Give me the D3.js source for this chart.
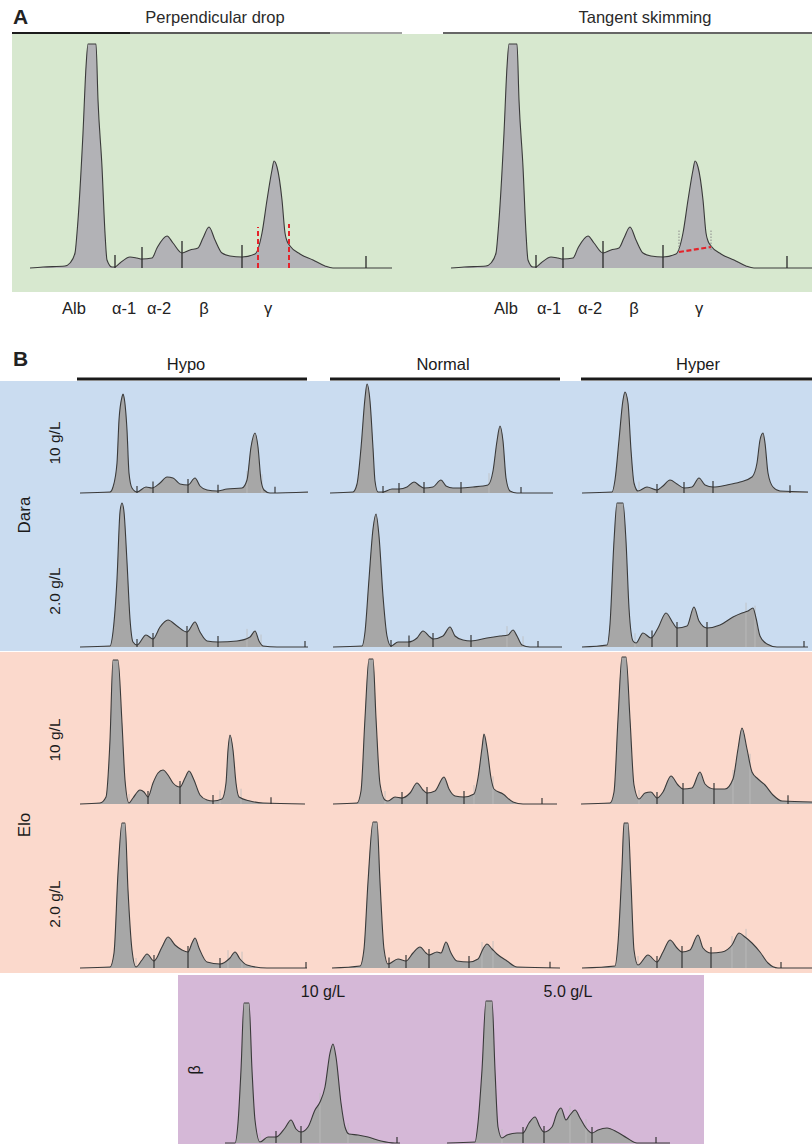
<!DOCTYPE html>
<html>
<head>
<meta charset="utf-8">
<script src="https://cdn.jsdelivr.net/npm/d3@7"></script>
<style>
  body { margin: 0; background: #fff; }
  svg { display: block; font-family: "Liberation Sans", Arial, sans-serif; }
</style>
</head>
<body>
<div id="chart"></div>
<script>
// ---------------------------------------------------------------------------
// data: densitometry traces as [mobility, absorbance] pairs (arbitrary units)
// ---------------------------------------------------------------------------
var methods = ['Perpendicular drop', 'Tangent skimming'];
var fractionLabels = ['Alb', 'α-1', 'α-2', 'β', 'γ'];
var labelMobilityPerp = [44, 94, 129, 174, 238];
var labelMobilityTangent = [55, 98, 139, 183, 248];

var refTrace = [[0,0],[13,1],[35,2],[40,5],[45,15],[47,35],[53,135],[56,201],[58,224],[66,224],[68,168],[72,101],[75,35],[77,8],[82,1],[85,1],[90,5],[100,11],[107,10],[112,9],[122,10],[127,20],[137,32],[143,25],[152,15],[160,18],[168,20],[173,30],[179,41],[185,28],[192,15],[200,12],[212,11],[225,14],[232,35],[237,68],[242,98],[244,107],[247,101],[252,68],[255,35],[257,27],[260,22],[270,14],[283,8],[295,2],[303,0],[362,0]];
var refBoundaries = [85, 112, 152, 212, 336];
var perpDropMobility = [228, 259];
var perpDropLevel = [41, 44];
var tangentMobility = [228, 260];
var tangentLevel = [16, 21];

var levels = ['Hypo', 'Normal', 'Hyper'];
var drugs = ['Dara', 'Elo'];
var doses = ['10 g/L', '2.0 g/L'];
var betaDoses = ['10 g/L', '5.0 g/L'];

var daraHypo10 = [[1,0],[31,1],[34,6],[38,30],[40,73],[43,96],[44,99],[45,96],[48,63],[50,20],[53,5],[58,1],[67,6],[73,5],[81,10],[88,16],[94,15],[101,9],[109,8],[116,15],[121,7],[128,3],[138,2],[148,4],[163,5],[168,13],[172,46],[176,60],[179,46],[182,13],[185,3],[191,0],[229,1]];
var daraNormal10 = [[0,0],[23,1],[27,9],[31,45],[35,95],[37,109],[40,92],[43,45],[45,12],[48,1],[53,1],[62,4],[69,4],[77,6],[84,11],[90,7],[94,5],[103,6],[111,13],[116,7],[123,5],[131,5],[143,6],[158,8],[163,22],[167,52],[170,67],[173,52],[176,15],[180,2],[187,0],[223,0]];
var daraHyper10 = [[1,0],[31,1],[34,13],[38,53],[42,93],[44,101],[47,90],[50,43],[53,10],[57,2],[66,6],[76,3],[82,7],[89,13],[96,9],[103,5],[111,6],[118,15],[124,8],[132,6],[146,8],[159,11],[171,16],[176,30],[179,53],[182,60],[184,50],[187,20],[192,6],[199,2],[227,1]];
var daraHypo2 = [[1,0],[31,1],[34,15],[38,68],[41,135],[43,144],[45,135],[48,85],[51,28],[54,5],[58,2],[67,12],[74,8],[81,20],[89,27],[98,21],[108,15],[116,25],[121,15],[128,6],[139,5],[158,6],[171,10],[176,16],[180,6],[184,1],[198,0],[229,0]];
var daraNormal2 = [[3,0],[32,1],[35,15],[39,68],[43,118],[46,133],[49,111],[53,51],[57,11],[61,1],[68,5],[78,5],[87,9],[93,16],[100,10],[103,8],[113,11],[120,20],[125,11],[133,7],[141,6],[157,9],[170,11],[178,12],[183,17],[187,11],[192,2],[200,0],[232,0]];
var daraHyper2 = [[1,0],[26,2],[29,23],[33,106],[36,144],[42,144],[45,106],[48,39],[52,6],[55,4],[62,14],[70,9],[77,19],[85,34],[92,24],[96,19],[106,21],[113,40],[118,26],[126,19],[139,22],[152,30],[161,34],[167,36],[172,39],[175,29],[179,11],[186,3],[196,0],[227,0]];
var eloHypo10 = [[1,0],[21,1],[27,7],[31,64],[34,144],[39,144],[43,81],[46,24],[50,1],[54,6],[61,14],[65,12],[69,7],[74,21],[79,31],[84,34],[89,29],[94,21],[101,17],[106,26],[110,33],[115,24],[121,9],[128,4],[134,3],[143,5],[147,21],[149,54],[151,69],[154,54],[157,21],[160,7],[171,3],[184,1],[226,0]];
var eloNormal10 = [[3,0],[27,1],[31,13],[35,86],[39,145],[43,145],[46,86],[50,20],[55,4],[58,3],[65,7],[72,6],[80,11],[87,21],[93,14],[97,11],[105,13],[114,27],[119,15],[125,8],[134,7],[144,10],[148,26],[152,56],[154,70],[157,56],[161,26],[164,15],[173,10],[183,2],[193,0],[227,0]];
var eloHyper10 = [[0,0],[29,1],[33,12],[37,85],[41,147],[45,147],[49,85],[53,19],[58,5],[64,11],[70,12],[76,6],[82,12],[90,28],[97,19],[102,15],[111,16],[119,32],[124,20],[133,15],[144,15],[152,25],[157,55],[161,76],[166,55],[171,32],[177,25],[184,19],[192,9],[201,3],[231,2]];
var eloHypo2 = [[1,0],[31,1],[35,15],[39,95],[43,145],[46,145],[49,78],[53,18],[57,1],[63,8],[68,14],[75,7],[83,21],[89,31],[96,23],[103,18],[109,16],[113,25],[116,30],[120,20],[128,6],[141,4],[151,10],[156,16],[161,9],[168,3],[188,0],[228,0]];
var eloNormal2 = [[2,0],[30,2],[34,19],[38,86],[43,146],[47,146],[50,86],[54,19],[58,4],[68,9],[76,7],[83,15],[90,21],[96,15],[99,13],[107,16],[111,15],[116,26],[121,15],[127,7],[139,6],[148,9],[153,19],[157,24],[162,19],[167,14],[177,7],[187,1],[230,0]];
var eloHyper2 = [[1,0],[34,2],[37,25],[41,101],[43,145],[47,145],[50,85],[53,18],[57,3],[67,13],[76,6],[82,16],[89,28],[96,20],[101,16],[109,18],[117,33],[122,20],[130,15],[141,16],[151,23],[158,35],[164,31],[171,25],[179,16],[187,5],[197,0],[231,0]];
var beta10 = [[3,0],[13,0],[16,20],[19,73],[22,140],[27,140],[30,73],[33,23],[38,1],[46,6],[54,6],[63,15],[69,23],[74,14],[79,11],[86,16],[93,33],[98,41],[103,56],[108,90],[111,99],[114,86],[119,40],[123,16],[127,9],[136,8],[146,6],[159,2],[173,0],[178,0]];
var beta5 = [[1,0],[29,1],[32,20],[36,73],[40,142],[46,142],[49,73],[52,16],[56,5],[61,8],[71,10],[77,10],[83,20],[89,26],[94,16],[98,11],[106,16],[111,30],[115,35],[120,23],[124,28],[129,33],[134,25],[140,15],[146,10],[152,13],[161,15],[171,11],[181,5],[191,0],[224,0]];

// fraction boundaries (dark) and gamma integration marks (light) per trace
var daraHypo10Cuts = [58, 74, 109, 139, 196],  daraHypo10Marks = [168, 183];
var daraNormal10Cuts = [53, 69, 94, 131, 191], daraNormal10Marks = [159];
var daraHyper10Cuts = [76, 103, 132, 209],     daraHyper10Marks = [58];
var daraHypo2Cuts = [58, 74, 108, 139, 226],   daraHypo2Marks = [168, 182];
var daraNormal2Cuts = [61, 79, 103, 141, 208], daraNormal2Marks = [177, 193];
var daraHyper2Cuts = [71, 96, 126, 223],       daraHyper2Marks = [54, 165, 174];
var eloHypo10Cuts = [69, 101, 134, 192],       eloHypo10Marks = [50, 141, 162];
var eloNormal10Cuts = [72, 97, 134, 212],      eloNormal10Marks = [55, 144, 163];
var eloHyper10Cuts = [76, 102, 133, 207],      eloHyper10Marks = [58, 152, 169];
var eloHypo2Cuts = [75, 109, 141, 227],        eloHypo2Marks = [57, 149, 163];
var eloNormal2Cuts = [59, 76, 99, 139, 220],   eloNormal2Marks = [152, 163];
var eloHyper2Cuts = [76, 101, 130, 200],       eloHyper2Marks = [57, 151, 165];
var beta10Cuts = [54, 79, 175],                beta10Marks = [38, 98, 126];
var beta5Cuts = [77, 98, 146, 210],            beta5Marks = [56, 124, 140];

// ---------------------------------------------------------------------------
var W = 812, H = 1144;
var svg = d3.select('#chart').append('svg').attr('width', W).attr('height', H);
svg.append('rect').attr('width', W).attr('height', H).attr('fill', '#fff');

var bisectMob = d3.bisector(function(d) { return d[0]; }).left;

// absorbance at a given mobility
function levelAt(trace, v) {
    var i = bisectMob(trace, v);
    if (i <= 0) { return trace[0][1]; }
    if (i >= trace.length) { return trace[trace.length - 1][1]; }
    var a = trace[i - 1], b = trace[i];
    return a[1] + (v - a[0]) / (b[0] - a[0]) * (b[1] - a[1]);
}

function drawLane(parent, trace, x, y, opt) {
    var base = y(0);
    var area = d3.area()
        .curve(d3.curveMonotoneX)
        .x(function(d) { return x(d[0]); })
        .y0(base)
        .y1(function(d) { return y(d[1]); });
    var g = parent.append('g');

    g.append('path').datum(trace).attr('d', area).attr('fill', opt.fill);

    g.selectAll('line.mark').data(opt.marks || []).enter().append('line')
        .attr('class', 'mark')
        .attr('x1', function(d) { return x(d); })
        .attr('x2', function(d) { return x(d); })
        .attr('y1', base)
        .attr('y2', function(d) { return y(levelAt(trace, d)) - opt.markLen; })
        .attr('stroke', '#bdbdbd')
        .attr('stroke-width', 0.8);

    g.append('path').datum(trace)
        .attr('d', area.lineY1())
        .attr('fill', 'none')
        .attr('stroke', '#3a3a3a')
        .attr('stroke-width', 1.1);

    g.selectAll('line.cut').data(opt.cuts).enter().append('line')
        .attr('class', 'cut')
        .attr('x1', function(d) { return x(d); })
        .attr('x2', function(d) { return x(d); })
        .attr('y1', base)
        .attr('y2', function(d) { return y(levelAt(trace, d)) - opt.cutLen; })
        .attr('stroke', '#2a2a2a')
        .attr('stroke-width', opt.cutWidth || 1.1);
    return g;
}

function rotLabel(x, y, txt, size) {
    svg.append('text')
        .attr('transform', 'translate(' + x + ',' + y + ') rotate(-90)')
        .attr('text-anchor', 'middle')
        .attr('font-size', size)
        .attr('fill', '#1a1a1a')
        .text(txt);
}

// ---------------------------------------------------------------------------
// panel A
// ---------------------------------------------------------------------------
svg.append('rect').attr('x', 12).attr('y', 34).attr('width', 800).attr('height', 258).attr('fill', '#d7e8cf');

svg.append('text').attr('x', 13).attr('y', 24).attr('font-size', 21).attr('font-weight', 'bold').attr('fill', '#222').text('A');

[[12, 130, '#1c1c1c'], [130, 330, '#5a5a5a'], [330, 402, '#a2a2a2'], [443, 812, '#666']].forEach(function(s) {
    svg.append('line').attr('x1', s[0]).attr('x2', s[1]).attr('y1', 33).attr('y2', 33)
        .attr('stroke', s[2]).attr('stroke-width', 2);
});

var laneA = [30, 451];
var yA = d3.scaleLinear().domain([0, 224]).range([268, 44]);
var labelMobility = [labelMobilityPerp, labelMobilityTangent];
var methodCenters = [215, 645];

laneA.forEach(function(x0, k) {
    var x = d3.scaleLinear().domain([0, 362]).range([x0, x0 + 362]);
    svg.append('text').attr('x', methodCenters[k]).attr('y', 23).attr('text-anchor', 'middle')
        .attr('font-size', 16.5).attr('fill', '#2a2a2a').text(methods[k]);

    drawLane(svg, refTrace, x, yA, {fill: '#b2b2b6', cuts: refBoundaries, cutLen: 12, cutWidth: 1.3});

    if (k === 0) {
        perpDropMobility.forEach(function(m, i) {
            svg.append('line').attr('x1', x(m)).attr('x2', x(m)).attr('y1', yA(0)).attr('y2', yA(perpDropLevel[i]))
                .attr('stroke', '#e4232a').attr('stroke-width', 2).attr('stroke-dasharray', '5,3');
        });
    } else {
        tangentMobility.forEach(function(m) {
            svg.append('line').attr('x1', x(m)).attr('x2', x(m)).attr('y1', yA(18)).attr('y2', yA(39))
                .attr('stroke', '#8a8a8a').attr('stroke-width', 1).attr('stroke-dasharray', '1.5,1.5');
        });
        svg.append('line')
            .attr('x1', x(tangentMobility[0])).attr('y1', yA(tangentLevel[0]))
            .attr('x2', x(tangentMobility[1])).attr('y2', yA(tangentLevel[1]))
            .attr('stroke', '#e4232a').attr('stroke-width', 2.2).attr('stroke-dasharray', '5,2.5');
    }

    svg.selectAll(null).data(fractionLabels).enter().append('text')
        .attr('x', function(d, i) { return x(labelMobility[k][i]); })
        .attr('y', 314)
        .attr('text-anchor', 'middle')
        .attr('font-size', 16.5)
        .attr('fill', '#222')
        .text(function(d) { return d; });
});

// ---------------------------------------------------------------------------
// panel B
// ---------------------------------------------------------------------------
svg.append('rect').attr('x', 0).attr('y', 381).attr('width', W).attr('height', 270).attr('fill', '#cadcf0');
svg.append('rect').attr('x', 0).attr('y', 652).attr('width', W).attr('height', 321).attr('fill', '#fbd9cc');
svg.append('rect').attr('x', 178).attr('y', 975).attr('width', 526).attr('height', 169).attr('fill', '#d5b8d7');

svg.append('text').attr('x', 13).attr('y', 366).attr('font-size', 21).attr('font-weight', 'bold').attr('fill', '#222').text('B');

var laneB = [79, 330, 581];
var headerSpan = [[77, 307], [330, 560], [581, 812]];
var headerCenters = [186, 443, 698];
levels.forEach(function(lv, c) {
    svg.append('line').attr('x1', headerSpan[c][0]).attr('x2', headerSpan[c][1]).attr('y1', 379).attr('y2', 379)
        .attr('stroke', '#1a1a1a').attr('stroke-width', 3);
    svg.append('text').attr('x', headerCenters[c]).attr('y', 370).attr('text-anchor', 'middle')
        .attr('font-size', 16.5).attr('fill', '#1a1a1a').text(lv);
});

var gridTraces = [
    [daraHypo10, daraNormal10, daraHyper10],
    [daraHypo2, daraNormal2, daraHyper2],
    [eloHypo10, eloNormal10, eloHyper10],
    [eloHypo2, eloNormal2, eloHyper2]
];
var gridCuts = [
    [daraHypo10Cuts, daraNormal10Cuts, daraHyper10Cuts],
    [daraHypo2Cuts, daraNormal2Cuts, daraHyper2Cuts],
    [eloHypo10Cuts, eloNormal10Cuts, eloHyper10Cuts],
    [eloHypo2Cuts, eloNormal2Cuts, eloHyper2Cuts]
];
var gridMarks = [
    [daraHypo10Marks, daraNormal10Marks, daraHyper10Marks],
    [daraHypo2Marks, daraNormal2Marks, daraHyper2Marks],
    [eloHypo10Marks, eloNormal10Marks, eloHyper10Marks],
    [eloHypo2Marks, eloNormal2Marks, eloHyper2Marks]
];
var rowBase = [493, 647, 804, 968];
var doseLabelY = [443, 591, 740, 904];

rowBase.forEach(function(b, r) {
    var y = d3.scaleLinear().domain([0, 150]).range([b, b - 150]);
    laneB.forEach(function(x0, c) {
        var x = d3.scaleLinear().domain([0, 230]).range([x0, x0 + 230]);
        drawLane(svg, gridTraces[r][c], x, y, {
            fill: '#a7a7a7', cuts: gridCuts[r][c], cutLen: 6, marks: gridMarks[r][c], markLen: 9
        });
    });
    rotLabel(60, doseLabelY[r], doses[r % 2], 15.5);
});

rotLabel(30, 515, drugs[0], 17);
rotLabel(30, 825, drugs[1], 17);

// beta-region interference row
var laneBeta = [222, 446];
var betaCenters = [323, 568];
var betaTraces = [beta10, beta5];
var betaCuts = [beta10Cuts, beta5Cuts];
var betaMarks = [beta10Marks, beta5Marks];
var yBeta = d3.scaleLinear().domain([0, 150]).range([1143, 993]);
laneBeta.forEach(function(x0, k) {
    var x = d3.scaleLinear().domain([0, 230]).range([x0, x0 + 230]);
    drawLane(svg, betaTraces[k], x, yBeta, {
        fill: '#a7a7a7', cuts: betaCuts[k], cutLen: 6, marks: betaMarks[k], markLen: 9
    });
    svg.append('text').attr('x', betaCenters[k]).attr('y', 997).attr('text-anchor', 'middle')
        .attr('font-size', 16).attr('fill', '#1a1a1a').text(betaDoses[k]);
});
rotLabel(200, 1070, 'β', 16);
</script>
</body>
</html>
